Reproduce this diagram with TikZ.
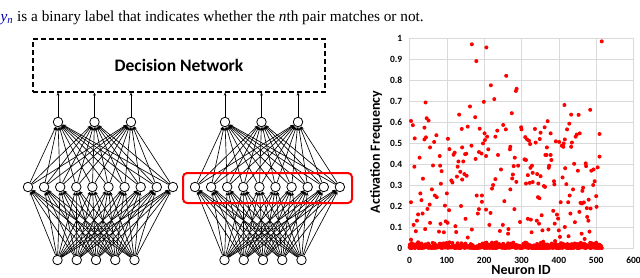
\documentclass[tikz,border=0pt]{standalone}
\usepackage{fontspec}
\setmainfont{Liberation Serif}
\newfontfamily\calib{Carlito}
\usetikzlibrary{arrows.meta}

\tikzset{
  neuron/.style={circle,draw,fill=white,line width=0.8pt,minimum size=9.5pt,inner sep=0pt},
  link/.style={line width=0.65pt,-{Stealth[length=3.5pt,width=3pt]}},
  feed/.style={line width=0.9pt,-{Stealth[length=3pt,width=2.8pt]}},
  dot/.style={red},
  gridline/.style={black!15,line width=0.5pt},
  ticklab/.style={font=\calib\bfseries\fontsize{9.5}{11}\selectfont,inner sep=1pt},
  axlab/.style={font=\calib\bfseries\fontsize{14}{16}\selectfont,inner sep=0pt},
}

\begin{document}
\begin{tikzpicture}[x=1pt,y=-1pt]
\useasboundingbox (0,0) rectangle (640,277);

% caption line
\node[anchor=base west,inner sep=0pt,font=\fontsize{15.3}{17}\selectfont] (cap) at (0.5,21)
  {{\color{blue!70!black}\textit{y}\textsubscript{\textit{n}}} is a binary label that indicates whether the \textit{n}th pair matches or not.};

% decision network
\node[draw,line width=1.3pt,dash pattern=on 5pt off 3pt,minimum width=292pt,minimum height=53pt,
  font=\calib\bfseries\fontsize{17.5}{19}\selectfont] (dec) at (179,65.5) {Decision Network};

% the two networks
\foreach \s/\dx in {L/0,R/167}{
  \foreach \i [evaluate=\i as \x using \dx+57.5+19.25*(\i-1)] in {1,...,5}
    \node[neuron] (\s b\i) at (\x,260) {};
  \foreach \i [evaluate=\i as \x using \dx+28+16.1*(\i-1)] in {1,...,10}
    \node[neuron] (\s m\i) at (\x,187) {};
  \foreach \i [evaluate=\i as \x using \dx+58+36.5*(\i-1)] in {1,2,3}
    \node[neuron] (\s t\i) at (\x,122) {};
  \foreach \i in {1,...,5}
    \foreach \j in {1,...,10}
      \draw[link] (\s b\i) -- (\s m\j);
  \foreach \i in {1,...,10}
    \foreach \j in {1,2,3}
      \draw[link] (\s m\i) -- (\s t\j);
  \foreach \j in {1,2,3}
    \draw[feed] (\s t\j) -- (\s t\j |- dec.south);
}

% highlighted layer
\node[draw=red,line width=2pt,rounded corners=4pt,minimum width=169pt,minimum height=30pt] (hl) at (267.5,188) {};

% activation plot
\begin{scope}[xshift=409.5pt,yshift=-248pt,x=0.37333pt,y=210pt]
  \foreach \k in {0,...,10}
    \draw[gridline] (0,\k/10) -- (600,\k/10);
  \foreach \k in {0,100,...,600}
    \draw[gridline] (\k,0) -- (\k,1);
  \foreach \k/\t in {0/0,1/0.1,2/0.2,3/0.3,4/0.4,5/0.5,6/0.6,7/0.7,8/0.8,9/0.9,10/1}
    \node[ticklab,anchor=east] (yl\k) at ([xshift=-6pt]0,\k/10) {\t};
  \foreach \k in {0,100,...,600}
    \node[ticklab] (xl\k) at ([yshift=-12pt]\k,0) {\k};
  \node[axlab] (xname) at ([yshift=-22pt]299,0) {Neuron ID};
  \node[axlab,rotate=90] (yname) at ([xshift=-33.5pt]0,0.457) {Activation Frequency};

  % neurons that stay near zero
  \pgfmathsetseed{12}
  \foreach \i in {0,...,515}{
    \pgfmathsetmacro\v{0.03*rnd*rnd}
    \fill[dot] (\i,\v) circle (2pt);
  }
  % the other neurons
  \foreach \a/\b in {4/.605,9/.585,4/.218,4/.04,13/.387,14/.522,11/.11,17/.08,20/.13,23/.16,27/.43,29/.26,
    32/.228,35/.164,36/.33,40/.573,43/.693,40/.517,44/.527,46/.618,51/.607,42/.09,48/.186,54/.207,55/.479,
    55/.12,60/.279,63/.393,66/.505,68/.25,72/.537,73/.242,79/.078,82/.392,81/.438,83/.115,84/.306,86/.366,
    92/.075,95/.202,97/.127,100/.26,102/.12,103/.52,106/.18,107/.471,112/.322,115/.312,118/.444,121/.454,
    123/.104,125/.076,127/.34,129/.387,133/.635,131/.412,136/.363,138/.2,140/.567,141/.479,141/.326,
    144/.412,147/.352,149/.447,152/.449,150/.139,153/.344,156/.578,156/.05,162/.674,166/.487,167/.088,
    167/.97,179/.89,206/.955,176/.623,177/.424,180/.25,183/.164,186/.185,186/.457,188/.568,193/.45,
    194/.25,194/.22,197/.498,199/.696,201/.546,202/.514,205/.438,205/.183,208/.53,211/.47,214/.11,
    217/.167,218/.775,221/.283,224/.3,227/.709,230/.328,230/.53,235/.559,237/.443,242/.081,245/.374,
    250/.11,251/.586,254/.223,258/.565,259/.82,264/.068,265/.09,269/.47,270/.279,270/.482,274/.642,
    275/.331,277/.35,279/.39,281/.185,282/.43,286/.315,285/.748,287/.758,291/.392,296/.124,299/.575,
    300/.565,305/.02,308/.422,310/.528,312/.419,312/.307,315/.517,317/.139,317/.347,320/.511,322/.31,
    323/.495,324/.382,325/.135,327/.075,328/.392,330/.314,330/.358,336/.567,338/.502,341/.13,342/.352,
    344/.242,345/.307,347/.116,348/.237,349/.519,351/.549,351/.342,354/.156,356/.084,358/.03,360/.295,
    362/.575,363/.291,364/.443,367/.443,368/.479,370/.604,372/.088,373/.382,374/.392,378/.546,378/.443,
    380/.419,385/.177,387/.318,388/.303,389/.116,390/.033,392/.508,395/.159,398/.14,400/.084,401/.505,
    403/.053,405/.218,408/.487,410/.336,412/.482,413/.498,415/.681,416/.517,416/.1,417/.38,420/.304,
    422/.565,425/.218,426/.056,428/.592,429/.25,431/.164,433/.482,433/.635,435/.502,438/.279,441/.401,
    443/.123,445/.53,448/.54,451/.368,453/.634,455/.172,456/.546,458/.215,461/.068,462/.212,463/.272,
    465/.287,467/.217,469/.043,472/.403,473/.39,475/.19,476/.148,479/.13,480/.23,482/.078,484/.658,
    485/.188,487/.368,492/.3,493/.374,496/.318,500/.247,501/.196,504/.384,509/.435,509/.543,515/.984}
    \fill[dot] (\a,\b) circle (2pt);
\end{scope}
\end{tikzpicture}
\end{document}
